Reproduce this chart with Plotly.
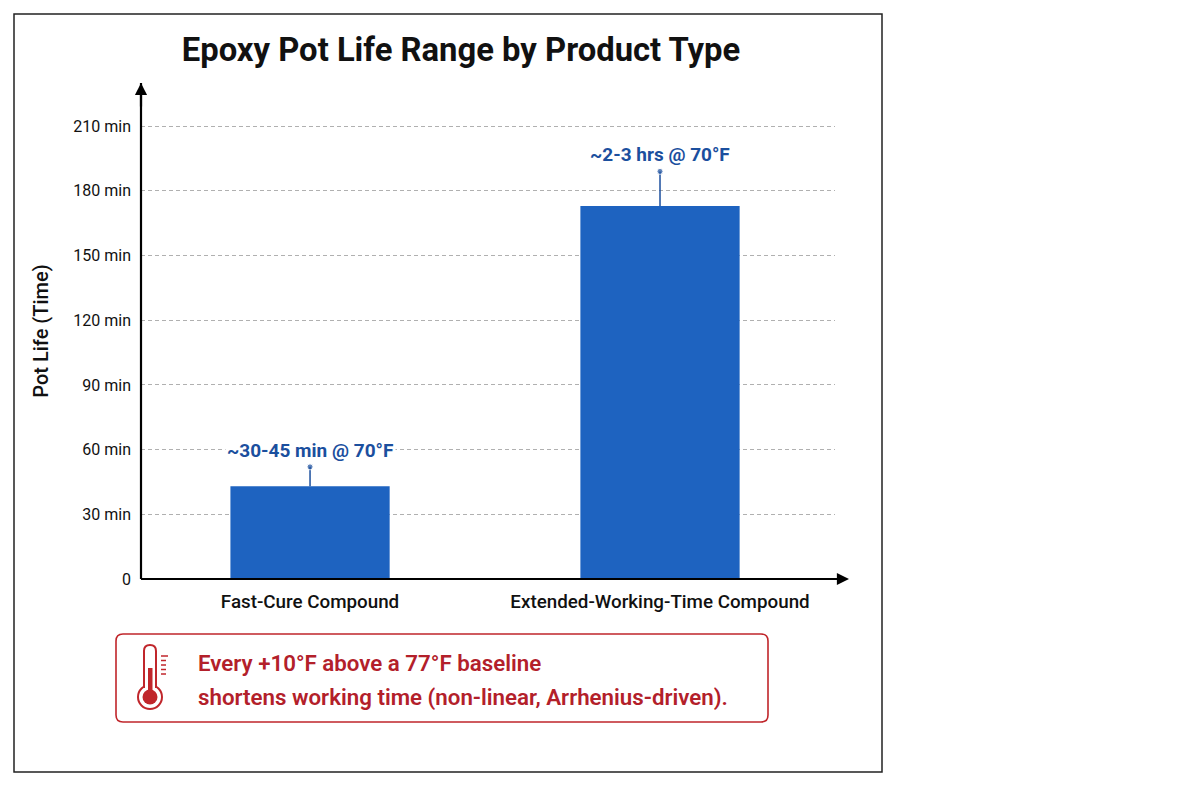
import plotly.graph_objects as go

# data
categories = ['Fast-Cure Compound', 'Extended-Working-Time Compound']
pot_life_min = [43, 173]          # bar height, minutes
range_top_min = [52, 189]         # top of the range marker
range_labels = ['~30-45 min @ 70°F', '~2-3 hrs @ 70°F']
y_tickvals = [0, 30, 60, 90, 120, 150, 180, 210]
y_ticktext = ['0', '30 min', '60 min', '90 min', '120 min', '150 min', '180 min', '210 min']
note_lines = ['Every +10°F above a 77°F baseline',
              'shortens working time (non-linear, Arrhenius-driven).']

BLUE = '#1e63c0'
DARK_BLUE = '#1b4f9e'
RED = '#c0262b'
FONT = 'Roboto'

# page offset (body margin) and plot area in screen pixels
OFF = 8
L, R, B, T = 141, 835, 579, 83


def px(x):
    return (x - L) / (R - L)


def py(y):
    return (B - y) / (B - T)


def pt(x, y):
    return f'{px(x):.5f},{py(y):.5f}'


fig = go.Figure()
fig.add_trace(go.Bar(x=categories, y=pot_life_min, marker_color=BLUE,
                     width=0.455, marker_line_width=0, showlegend=False,
                     hoverinfo='skip'))
for cat, h, top in zip(categories, pot_life_min, range_top_min):
    fig.add_trace(go.Scatter(x=[cat, cat], y=[h, top], mode='lines+markers',
                             line=dict(color=DARK_BLUE, width=1.5),
                             marker=dict(size=[0, 6], color=DARK_BLUE),
                             showlegend=False, hoverinfo='skip'))

for cat, top, txt in zip(categories, range_top_min, range_labels):
    fig.add_annotation(x=cat, y=top, text=f'<b>{txt}</b>', showarrow=False,
                       yanchor='bottom', yshift=3, bgcolor='white',
                       font=dict(family=FONT, size=19, color=DARK_BLUE))

shapes = []
# outer frame
shapes.append(dict(type='rect', xref='paper', yref='paper',
                   x0=px(14), x1=px(882), y0=py(772), y1=py(14),
                   line=dict(color='#222', width=1.5), layer='below'))
# axes lines
shapes.append(dict(type='line', xref='paper', yref='paper', x0=0, x1=0,
                   y0=0, y1=1, line=dict(color='black', width=2.2)))
shapes.append(dict(type='line', xref='paper', yref='paper', x0=0, x1=px(846),
                   y0=0, y1=0, line=dict(color='black', width=2.2)))

# rounded note box
x0, x1, y0, y1, r = 116, 768, 634, 722, 7
box = (f'M {pt(x0 + r, y0)} L {pt(x1 - r, y0)} Q {pt(x1, y0)} {pt(x1, y0 + r)} '
       f'L {pt(x1, y1 - r)} Q {pt(x1, y1)} {pt(x1 - r, y1)} '
       f'L {pt(x0 + r, y1)} Q {pt(x0, y1)} {pt(x0, y1 - r)} '
       f'L {pt(x0, y0 + r)} Q {pt(x0, y0)} {pt(x0 + r, y0)} Z')
shapes.append(dict(type='path', xref='paper', yref='paper', path=box,
                   line=dict(color=RED, width=1.6), fillcolor='white'))

# thermometer icon
cx, cy = 150, 697
shapes.append(dict(type='circle', xref='paper', yref='paper',
                   x0=px(cx - 12), x1=px(cx + 12), y0=py(cy + 12), y1=py(cy - 12),
                   line=dict(color=RED, width=2), fillcolor='white'))
shapes.append(dict(type='rect', xref='paper', yref='paper',
                   x0=px(145), x1=px(155), y0=py(691), y1=py(682),
                   line=dict(width=0), fillcolor='white'))
tube = (f'M {pt(144, 688)} L {pt(144, 651)} Q {pt(144, 645)} {pt(150, 645)} '
        f'Q {pt(156, 645)} {pt(156, 651)} L {pt(156, 688)}')
shapes.append(dict(type='path', xref='paper', yref='paper', path=tube,
                   line=dict(color=RED, width=2)))
shapes.append(dict(type='circle', xref='paper', yref='paper',
                   x0=px(cx - 7.5), x1=px(cx + 7.5), y0=py(cy + 7.5), y1=py(cy - 7.5),
                   line=dict(width=0), fillcolor=RED))
shapes.append(dict(type='rect', xref='paper', yref='paper',
                   x0=px(148), x1=px(152.5), y0=py(694), y1=py(668),
                   line=dict(width=0), fillcolor=RED))
for ty, tx in zip([656, 660.5, 665, 669.5, 674], [168, 166, 166, 166, 166]):
    shapes.append(dict(type='line', xref='paper', yref='paper',
                       x0=px(161), x1=px(tx), y0=py(ty), y1=py(ty),
                       line=dict(color=RED, width=1.5)))

# arrowheads on axes
fig.add_annotation(xref='paper', yref='paper', x=0, y=1, ax=0, ay=25, text='',
                   showarrow=True, arrowhead=2, arrowsize=1.1, arrowwidth=2.2,
                   arrowcolor='black')
fig.add_annotation(xref='paper', yref='paper', x=px(849), y=0, ax=-25, ay=0, text='',
                   showarrow=True, arrowhead=2, arrowsize=1.1, arrowwidth=2.2,
                   arrowcolor='black')

# note text
for line, ny in zip(note_lines, [663, 697]):
    fig.add_annotation(xref='paper', yref='paper', x=px(196), y=py(ny), text=line,
                       showarrow=False, xanchor='left', yanchor='middle',
                       font=dict(family=FONT, size=22.3, color='#b3202a', weight=600))

fig.update_layout(
    width=1200, height=800,
    margin=dict(l=L - OFF, r=1200 - R + OFF, t=T - OFF, b=800 - B + OFF),
    paper_bgcolor='white', plot_bgcolor='white',
    title=dict(text='<b>Epoxy Pot Life Range by Product Type</b>',
               xref='container', yref='container',
               x=(461 - OFF) / 1200, y=1 - (50 - OFF) / 800,
               xanchor='center', yanchor='middle',
               font=dict(family=FONT, size=32.8, color='#111')),
    shapes=shapes,
    bargap=0.5,
)
fig.update_xaxes(range=[-0.483, 1.5], showgrid=False, zeroline=False, showline=False,
                 ticks='', ticklabelstandoff=9,
                 tickfont=dict(family=FONT, size=18.8, color='#111', weight=500))
fig.update_yaxes(range=[0, 230], tickvals=y_tickvals, ticktext=y_ticktext,
                 showgrid=True, gridcolor='#b0b0b0', griddash='4px,3px', gridwidth=1,
                 zeroline=False, showline=False, ticks='', ticklabelstandoff=9,
                 tickfont=dict(family=FONT, size=16, color='#111'),
                 title=dict(text='Pot Life (Time)', standoff=19,
                            font=dict(family=FONT, size=20, color='#111', weight=500)))

fig.write_html('out.html')
